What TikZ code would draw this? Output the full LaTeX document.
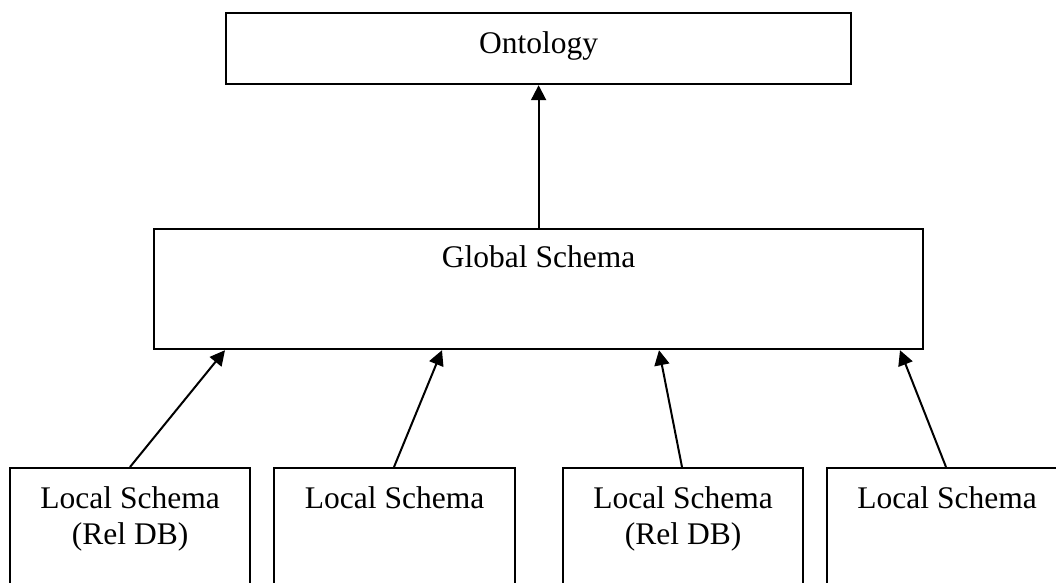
\documentclass[tikz,border=0pt]{standalone}
\usepackage{fontspec}
\setmainfont{Liberation Serif}
\usetikzlibrary{arrows.meta}
\begin{document}
\begin{tikzpicture}[x=1pt,y=-1pt,
  box/.style={draw=black,line width=2.2pt,rectangle,inner sep=0pt,anchor=north west},
  txt/.style={font=\fontsize{31.5}{36}\selectfont,inner sep=0pt,anchor=base,align=center},
  link/.style={line width=2pt,-{Triangle[length=15pt,width=15pt]}}]
  \useasboundingbox (0,0) rectangle (1056,582);

  % upper levels
  \node[box,minimum width=625pt,minimum height=71pt] (onto) at (225,12) {};
  \node[box,minimum width=769pt,minimum height=120pt] (glob) at (153,228) {};

  % local sources (run past the lower edge)
  \node[box,minimum width=240pt,minimum height=140pt] (l1) at (9,467) {};
  \node[box,minimum width=241pt,minimum height=140pt] (l2) at (273,467) {};
  \node[box,minimum width=240pt,minimum height=140pt] (l3) at (562,467) {};
  \node[box,minimum width=240pt,minimum height=140pt] (l4) at (826,467) {};

  % captions (a two-line node sits on the baseline of its last line)
  \node[txt] (tonto) at ([yshift=-41pt]onto.north) {Ontology};
  \node[txt] (tglob) at ([yshift=-39pt]glob.north) {Global Schema};
  \node[txt] (t1) at ([yshift=-77pt]l1.north) {Local Schema\\(Rel DB)};
  \node[txt] (t2) at ([yshift=-41pt]l2.north) {Local Schema};
  \node[txt] (t3) at ([yshift=-77pt]l3.north) {Local Schema\\(Rel DB)};
  \node[txt] (t4) at ([yshift=-41pt]l4.north) {Local Schema};

  % mappings
  \draw[link] (glob.north) -- (onto.south);
  \draw[link] ([xshift=121pt]l1.north west) -- ([xshift=72pt]glob.south west);
  \draw[link] ([xshift=121pt]l2.north west) -- ([xshift=289pt]glob.south west);
  \draw[link] ([xshift=120pt]l3.north west) -- ([xshift=506pt]glob.south west);
  \draw[link] ([xshift=120pt]l4.north west) -- ([xshift=747pt]glob.south west);
\end{tikzpicture}
\end{document}
